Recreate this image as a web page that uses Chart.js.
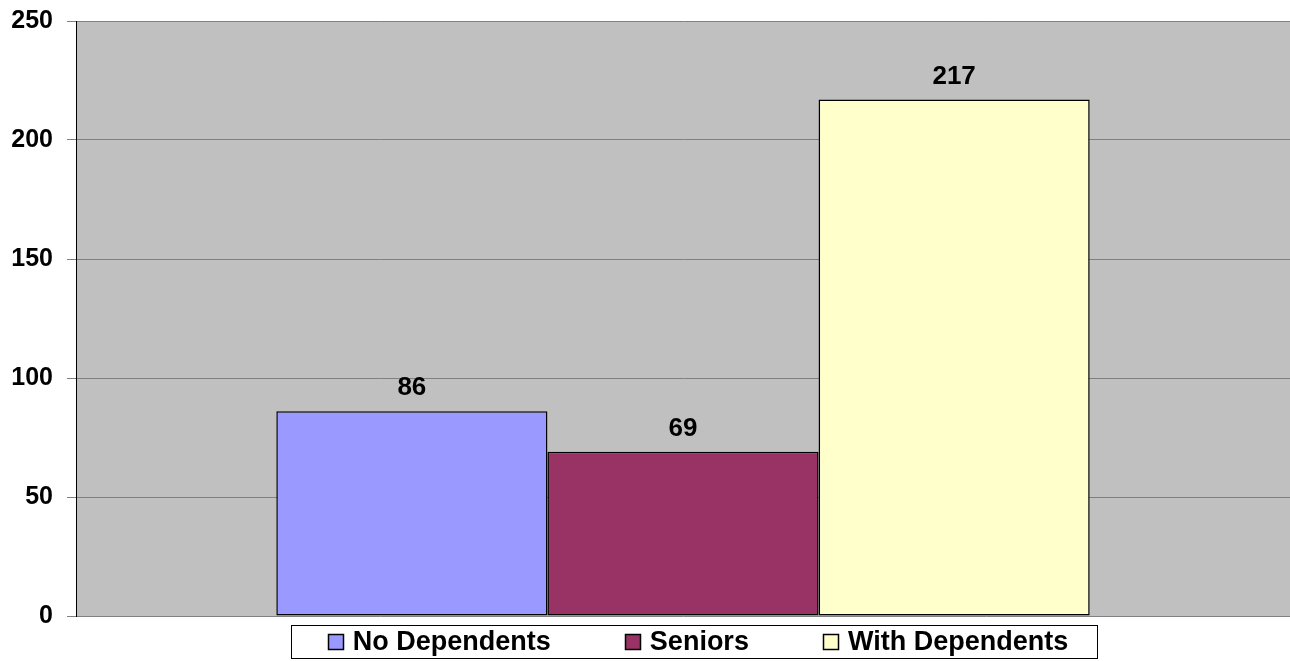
<!DOCTYPE html>
<html>
<head>
<meta charset="utf-8">
<script src="https://cdn.jsdelivr.net/npm/chart.js@4.4.1/dist/chart.umd.min.js"></script>
<style>
  html,body{margin:0;padding:0;background:#fff;}
  #wrap{width:1290px;height:661px;position:relative;}
</style>
</head>
<body>
<div id="wrap"><canvas id="chart"></canvas></div>
<script>
// household groups
const seriesNames = ['No Dependents', 'Seniors', 'With Dependents'];
const seriesValues = [86, 69, 217];
const seriesColors = ['#9999FF', '#993366', '#FFFFCC'];
const yTicks = [0, 50, 100, 150, 200, 250];

const FONT = "'Liberation Sans', Arial, sans-serif";

// gray plot background
const plotBg = {
  id: 'plotBg',
  beforeDraw(chart){
    const {ctx, chartArea:a} = chart;
    ctx.save();
    ctx.fillStyle = '#C0C0C0';
    ctx.fillRect(a.left, a.top, a.right - a.left, a.bottom - a.top);
    ctx.restore();
  }
};

// value above each bar
const valueLabels = {
  id: 'valueLabels',
  afterDatasetsDraw(chart){
    const ctx = chart.ctx;
    ctx.save();
    ctx.font = 'bold 26px ' + FONT;
    ctx.fillStyle = '#000';
    ctx.textAlign = 'center';
    ctx.textBaseline = 'alphabetic';
    chart.data.datasets.forEach((ds, i)=>{
      const bar = chart.getDatasetMeta(i).data[0];
      ctx.fillText(String(ds.data[0]), bar.x, bar.y - 16);
    });
    ctx.restore();
  }
};

// boxed legend under the plot
const boxLegend = {
  id: 'boxLegend',
  afterDraw(chart, args, opts){
    const ctx = chart.ctx;
    ctx.save();
    ctx.font = 'bold 27px ' + FONT;
    const items = chart.data.datasets.map(ds => ({
      label: ds.label, color: ds.backgroundColor, w: ctx.measureText(ds.label).width
    }));
    const box = 15, gap = 10, spacing = 74;
    const inner = items.reduce((s,it)=>s + box + gap + it.w, 0) + spacing*(items.length-1);
    const left = opts.centerX - inner/2;
    const top = opts.top, h = opts.height;
    const bx0 = Math.round(left - 37) + 0.5;
    const bx1 = Math.round(left + inner + 29) + 0.5;
    ctx.fillStyle = '#fff';
    ctx.fillRect(bx0, top + 0.5, bx1 - bx0, h);
    ctx.strokeStyle = '#000';
    ctx.lineWidth = 1;
    ctx.strokeRect(bx0, top + 0.5, bx1 - bx0, h);
    const cy = top + h/2;
    let x = left;
    items.forEach(it=>{
      const by = Math.round(cy - box/2) + 0.5;
      const bx = Math.round(x) + 0.5;
      ctx.fillStyle = it.color;
      ctx.fillRect(bx, by, box, box);
      ctx.strokeStyle = '#000';
      ctx.lineWidth = 1.5;
      ctx.strokeRect(bx, by, box, box);
      ctx.fillStyle = '#000';
      ctx.textAlign = 'left';
      ctx.textBaseline = 'middle';
      ctx.fillText(it.label, x + box + gap, cy + 1);
      x += box + gap + it.w + spacing;
    });
    ctx.restore();
  }
};

const ctx = document.getElementById('chart').getContext('2d');
new Chart(ctx, {
  type: 'bar',
  data: {
    labels: [''],
    datasets: seriesNames.map((n, i)=>({
      label: n,
      data: [seriesValues[i]],
      backgroundColor: seriesColors[i],
      borderColor: '#000',
      borderWidth: 1.5,
      borderSkipped: false,
      barPercentage: 1,
      categoryPercentage: 0.67
    }))
  },
  options: {
    responsive: true,
    maintainAspectRatio: false,
    animation: false,
    layout: { padding: { top: 21, right: 0, bottom: 45, left: 0 } },
    plugins: {
      legend: { display: false },
      tooltip: { enabled: false },
      boxLegend: { centerX: 698, top: 625, height: 33 }
    },
    scales: {
      x: {
        display: false,
        grid: { display: false }
      },
      y: {
        min: 0, max: 250,
        afterBuildTicks: s => { s.ticks = yTicks.map(v => ({value: v})); },
        afterFit: s => { s.width = 76; s.paddingTop = 0; s.paddingBottom = 0; },
        grid: { color: '#808080', lineWidth: 1, tickLength: 9, drawTicks: true },
        border: { display: true, color: '#000', width: 1 },
        ticks: {
          color: '#000',
          padding: 14,
          font: { family: FONT, size: 25, weight: 'bold' }
        }
      }
    }
  },
  plugins: [plotBg, valueLabels, boxLegend]
});
</script>
</body>
</html>
